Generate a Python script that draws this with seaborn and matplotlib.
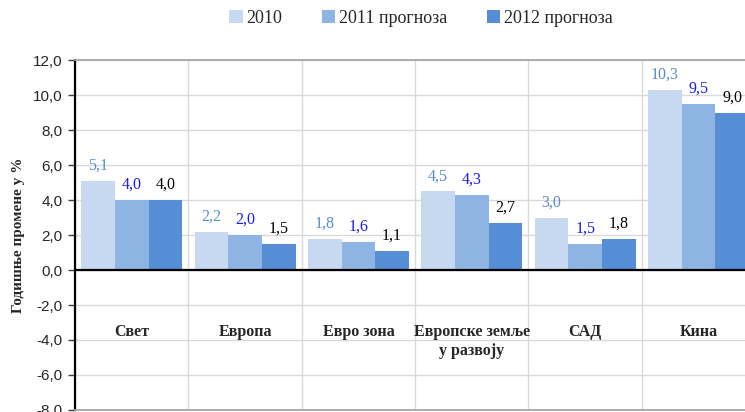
import numpy as np
import pandas as pd
import matplotlib
matplotlib.use('Agg')
import matplotlib.pyplot as plt
from matplotlib.patches import Patch
from matplotlib.ticker import FuncFormatter, FixedLocator
import seaborn as sns

regions = ['Свет', 'Европа', 'Евро зона', 'Европске земље\nу развоју', 'САД', 'Кина']
series = ['2010', '2011 прогноза', '2012 прогноза']
v2010 = [5.1, 2.2, 1.8, 4.5, 3.0, 10.3]
v2011 = [4.0, 2.0, 1.6, 4.3, 1.5, 9.5]
v2012 = [4.0, 1.5, 1.1, 2.7, 1.8, 9.0]

bar_colors = ['#C6D9F1', '#8DB4E2', '#558ED5']
label_colors = ['#5B8BCB', '#1A1AF0', '#000000']

df = pd.DataFrame({
    'region': regions * 3,
    'series': [series[0]] * 6 + [series[1]] * 6 + [series[2]] * 6,
    'value': v2010 + v2011 + v2012,
})

sns.set_style('white')
serif = 'Liberation Serif'
sans = 'Liberation Sans'

fig = plt.figure(figsize=(7.45, 4.12), dpi=100)
ax = fig.add_axes([0.1007, 0.005, 0.913, 0.849])

sns.barplot(data=df, x='region', y='value', hue='series', hue_order=series,
            palette=bar_colors, saturation=1, width=0.89, gap=0,
            errorbar=None, legend=False, ax=ax, zorder=3, linewidth=0)

fmt = lambda v: f'{v:.1f}'.replace('.', ',')
for cont, col in zip(ax.containers, label_colors):
    ax.bar_label(cont, labels=[fmt(b.get_height()) for b in cont], padding=5,
                 color=col, fontsize=11.5, family=serif)

ax.set_ylim(-8, 12)
ax.set_xlim(-0.5, 5.5)
ax.yaxis.set_major_locator(FixedLocator(np.arange(-8, 13, 2)))
ax.yaxis.set_major_formatter(FuncFormatter(lambda v, p: fmt(v)))
ax.set_xticks(np.arange(-0.5, 6, 1))
ax.tick_params(axis='x', bottom=False, labelbottom=False)
ax.tick_params(axis='y', left=True, length=5, width=1, color='#404040',
               labelsize=11, pad=4)
for t in ax.get_yticklabels():
    t.set_family(sans)

ax.grid(True, color='#D9D9D9', lw=1, zorder=0)
ax.set_axisbelow(True)
ax.axhline(0, color='black', lw=1.6, zorder=4)
for side in ['top', 'bottom']:
    ax.spines[side].set_color('#A6A6A6')
    ax.spines[side].set_linewidth(1.3)
ax.spines['right'].set_visible(False)
ax.spines['left'].set_color('black')
ax.spines['left'].set_linewidth(1.6)

for i, name in enumerate(regions):
    ax.text(i, -3.1, name, ha='center', va='top', fontsize=11.5,
            fontweight='bold', family=serif, linespacing=1.25)

ax.set_xlabel('')
ax.set_ylabel('Годишње промене у %', fontsize=11, fontweight='bold',
              family=serif, labelpad=6)

handles = [Patch(facecolor=c, edgecolor='none') for c in bar_colors]
fig.legend(handles, series, loc='center', bbox_to_anchor=(0.565, 0.955),
           ncol=3, frameon=False, prop={'family': serif, 'size': 13},
           handlelength=0.75, handleheight=0.75, handletextpad=0.2,
           columnspacing=2.2)

fig.savefig('out.png', dpi=100)
